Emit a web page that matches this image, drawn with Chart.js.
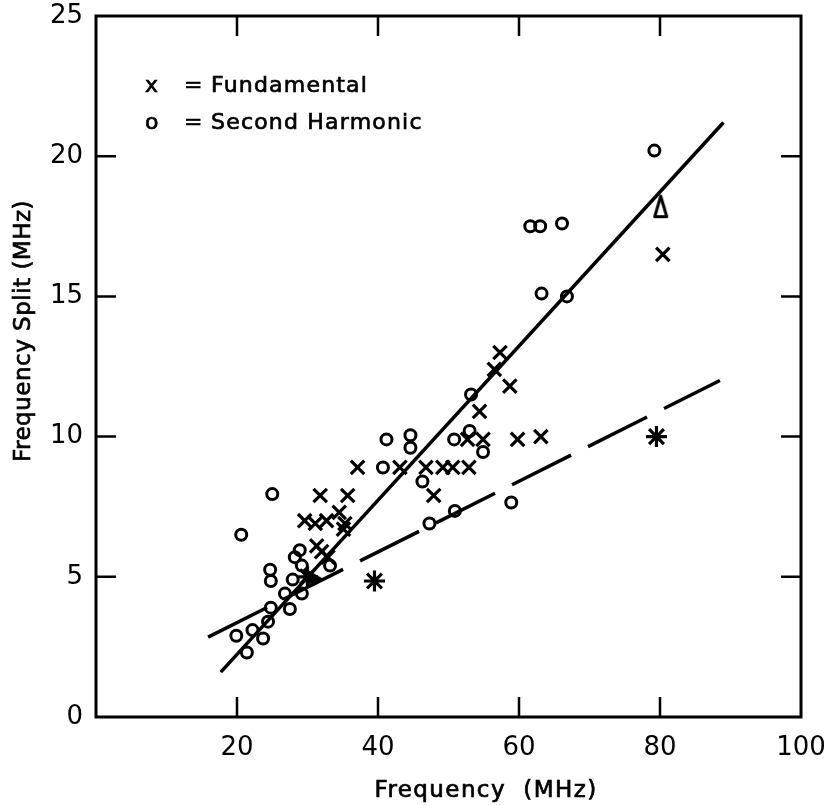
<!DOCTYPE html>
<html>
<head>
<meta charset="utf-8">
<script src="https://cdn.jsdelivr.net/npm/chart.js@4.4.1/dist/chart.umd.min.js"></script>
<style>
  body { margin: 0; background: #fff; }
</style>
</head>
<body>
<canvas id="chart" width="825" height="805"></canvas>
<script>
const ink = '#000';
const fontFamily = '"DejaVu Sans", "Liberation Sans", sans-serif';

const x_title = 'Frequency  (MHz)';
const y_title = 'Frequency Split (MHz)';
const legend_labels = ['Fundamental', 'Second Harmonic'];
const legend_symbols = ['x', 'o'];

const x_ticks = [0, 20, 40, 60, 80, 100];
const y_ticks = [0, 5, 10, 15, 20, 25];

// x = fundamental
const fundamental_x = [80.4, 57.3, 56.5, 58.7, 54.4, 52.7, 54.9, 59.8, 63.1, 37.1, 43.1, 46.8, 49.2, 50.6,
    52.9, 47.9, 35.7, 31.8, 34.5, 35.3, 35.1, 29.6, 31.1, 32.7, 31.3, 32.0, 32.9];
const fundamental_y = [16.5, 13.0, 12.4, 11.8, 10.9, 9.9, 9.9, 9.9, 10.0, 8.9, 8.9, 8.9, 8.9, 8.9,
    8.9, 7.9, 7.9, 7.9, 7.3, 6.9, 6.7, 7.0, 6.9, 7.0, 6.1, 5.9, 5.7];

// o = second harmonic
const harmonic_x = [79.2, 61.6, 63.0, 66.1, 63.2, 66.8, 53.2, 53.0, 50.8, 54.9, 41.2, 44.6, 44.6, 40.7,
    46.3, 58.9, 50.9, 47.3, 25.0, 20.6, 28.9, 28.2, 29.2, 33.2, 24.7, 24.8, 27.9, 29.2, 26.8, 24.8,
    27.5, 24.4, 22.2, 19.9, 23.7, 21.4];
const harmonic_y = [20.2, 17.5, 17.5, 17.6, 15.1, 15.0, 11.5, 10.2, 9.9, 9.45, 9.9, 10.05, 9.6, 8.9,
    8.4, 7.65, 7.35, 6.9, 7.95, 6.5, 5.95, 5.7, 5.4, 5.4, 5.25, 4.85, 4.9, 4.4, 4.4, 3.9,
    3.85, 3.4, 3.1, 2.9, 2.8, 2.3];

// other markers
const triangle_x = [80.1];
const triangle_y = [18.2];
const asterisk_x = [30.0, 39.5, 79.5];
const asterisk_y = [5.0, 4.85, 10.0];
const filled_x = [30.8];
const filled_y = [5.0];

// fitted lines
const solid_x = [17.7, 89.0];
const solid_y = [1.6, 21.2];
const dashed_x = [15.9, 88.5];
const dashed_y = [2.85, 12.0];

function points(xs, ys) {
    return xs.map(function (x, i) { return { x: x, y: ys[i] }; });
}

function openTriangle() {
    const c = document.createElement('canvas');
    c.width = 17; c.height = 25;
    const g = c.getContext('2d');
    g.strokeStyle = ink; g.lineWidth = 3; g.lineJoin = 'round';
    g.beginPath();
    g.moveTo(8.5, 2); g.lineTo(2.5, 22.5); g.lineTo(14.5, 22.5); g.closePath();
    g.stroke();
    return c;
}

function filledTriangle() {
    const c = document.createElement('canvas');
    c.width = 22; c.height = 22;
    const g = c.getContext('2d');
    g.fillStyle = ink;
    g.beginPath();
    g.moveTo(2, 2); g.lineTo(21, 13); g.lineTo(4, 20); g.closePath();
    g.fill();
    return c;
}

var data = [];
function init() {
    data.push({ label: 'solid', data: points(solid_x, solid_y), showLine: true, borderColor: ink,
        borderWidth: 3.5, pointRadius: 0 });
    data.push({ label: 'dashed', data: points(dashed_x, dashed_y), showLine: true, borderColor: ink,
        borderWidth: 3.5, borderDash: [66, 19], pointRadius: 0 });
    data.push({ label: 'Fundamental', data: points(fundamental_x, fundamental_y), pointStyle: 'crossRot',
        pointRadius: 9.5, borderColor: ink, pointBorderWidth: 3.2 });
    data.push({ label: 'Second Harmonic', data: points(harmonic_x, harmonic_y), pointStyle: 'circle',
        pointRadius: 5.5, borderColor: ink, backgroundColor: 'rgba(255,255,255,0)', pointBorderWidth: 3 });
    data.push({ label: 'triangle', data: points(triangle_x, triangle_y), pointStyle: openTriangle(),
        borderColor: ink });
    data.push({ label: 'asterisk', data: points(asterisk_x, asterisk_y), pointStyle: 'star',
        pointRadius: 10.5, borderColor: ink, pointBorderWidth: 3.2 });
    data.push({ label: 'filled', data: points(filled_x, filled_y), pointStyle: filledTriangle(),
        borderColor: ink });
}

function inkText(ctx, text, x, y) {
    ctx.fillText(text, x, y);
    ctx.strokeText(text, x, y);
}

const frame = {
    id: 'frame',
    afterDraw(chart) {
        const ctx = chart.ctx;
        const a = chart.chartArea;
        const xs = chart.scales.x, ys = chart.scales.y;
        const tick = 20;
        ctx.save();
        ctx.strokeStyle = ink;
        ctx.lineWidth = 3;
        ctx.strokeRect(a.left, a.top, a.right - a.left, a.bottom - a.top);
        ctx.lineWidth = 2.5;
        ctx.beginPath();
        x_ticks.slice(1, -1).forEach(function (v) {
            const p = xs.getPixelForValue(v);
            ctx.moveTo(p, a.bottom); ctx.lineTo(p, a.bottom - tick);
            ctx.moveTo(p, a.top); ctx.lineTo(p, a.top + tick);
        });
        y_ticks.slice(1, -1).forEach(function (v) {
            const p = ys.getPixelForValue(v);
            ctx.moveTo(a.left, p); ctx.lineTo(a.left + tick, p);
            ctx.moveTo(a.right, p); ctx.lineTo(a.right - tick, p);
        });
        ctx.stroke();

        ctx.fillStyle = ink;
        ctx.lineWidth = 0.7;
        ctx.textBaseline = 'alphabetic';
        ctx.textAlign = 'left';
        // legend
        ctx.font = '22px ' + fontFamily;
        ctx.letterSpacing = '0px';
        inkText(ctx, legend_symbols[0], 145, 92);
        inkText(ctx, legend_symbols[1], 145, 129);
        inkText(ctx, '=', 184, 92);
        inkText(ctx, '=', 184, 129);
        ctx.letterSpacing = '1.2px';
        inkText(ctx, legend_labels[0], 211, 92);
        inkText(ctx, legend_labels[1], 211, 129);

        // axis titles
        ctx.font = '23px ' + fontFamily;
        ctx.letterSpacing = '1.4px';
        ctx.textAlign = 'center';
        inkText(ctx, x_title, 486, 797);
        ctx.translate(30, 331);
        ctx.rotate(-Math.PI / 2);
        ctx.letterSpacing = '0.5px';
        inkText(ctx, y_title, 0, 0);
        ctx.restore();
    }
};

init();
var ctx = document.getElementById('chart');
var chart = new Chart(ctx, {
    type: 'scatter',
    data: { datasets: data },
    plugins: [frame],
    options: {
        responsive: false,
        animation: false,
        layout: { padding: { top: 16, right: 24, left: 0, bottom: 0 } },
        plugins: { legend: { display: false }, tooltip: { enabled: false } },
        scales: {
            x: {
                min: 0, max: 100,
                afterFit: function (s) { s.height = 88; s.paddingLeft = 0; s.paddingRight = 0; },
                afterBuildTicks: function (s) { s.ticks = x_ticks.map(function (v) { return { value: v }; }); },
                ticks: {
                    color: ink, padding: 16, font: { family: fontFamily, size: 26 },
                    callback: function (v) { return v === 0 ? '' : v; }
                },
                grid: { display: false, drawTicks: false },
                border: { display: false }
            },
            y: {
                min: 0, max: 25,
                afterFit: function (s) { s.width = 96; s.paddingTop = 0; s.paddingBottom = 0; },
                afterBuildTicks: function (s) { s.ticks = y_ticks.map(function (v) { return { value: v }; }); },
                ticks: { color: ink, padding: 13, font: { family: fontFamily, size: 26 } },
                grid: { display: false, drawTicks: false },
                border: { display: false }
            }
        }
    }
});
</script>
</body>
</html>
